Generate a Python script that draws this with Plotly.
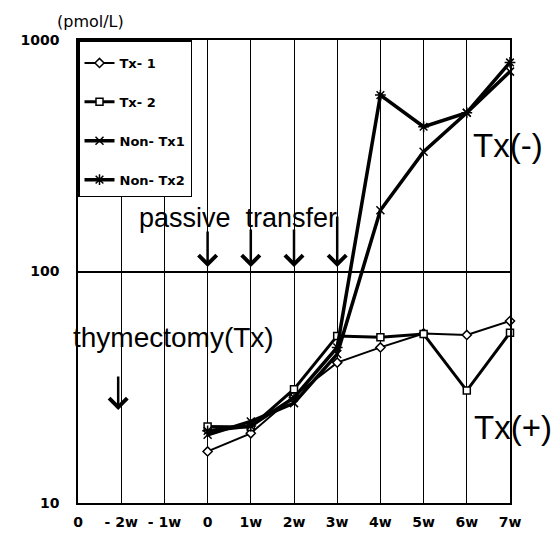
import math
import plotly.graph_objects as go

# ---- data ----
x_tick_labels = ["0", "- 2w", "- 1w", "0", "1w", "2w", "3w", "4w", "5w", "6w", "7w"]
week_pos = [3, 4, 5, 6, 7, 8, 9, 10]          # positions of 0,1w..7w on the axis
tx1 = [16.7, 20.0, 29.0, 40.4, 47.0, 54.0, 53.2, 61.1]
tx2 = [21.4, 21.3, 31.0, 52.7, 52.0, 53.7, 30.6, 54.4]
nontx1 = [19.7, 22.5, 27.0, 44.0, 184, 329, 485, 730]
nontx2 = [20.5, 21.5, 28.5, 47.0, 578, 422, 485, 800]
y_tick_vals = [10, 100, 1000]
y_tick_text = ["10", "100", "1000"]
passive_transfer_weeks = [3, 4, 5, 6]

fig = go.Figure()

series = [
    ("Tx- 1", tx1, "diamond", 7, 2, "white"),
    ("Tx- 2", tx2, "square", 7, 3, "white"),
    ("Non- Tx1", nontx1, "x-thin", 8, 3.5, "black"),
    ("Non- Tx2", nontx2, "asterisk", 9, 3.5, "black"),
]
for name, vals, sym, msize, lw, fill in series:
    fig.add_trace(go.Scatter(
        x=week_pos, y=vals, name=name, legendgroup=name,
        mode="lines+markers",
        line=dict(color="black", width=lw),
        marker=dict(symbol=sym, size=msize, color=fill,
                    line=dict(color="black", width=1.5)),
        cliponaxis=False,
    ))

ann = []
txt_font = dict(family="Liberation Sans, Arial", size=27, color="black")
ann.append(dict(x=3.70, y=2.231, xref="x", yref="y", text="passive&nbsp;&nbsp;transfer",
                showarrow=False, font=txt_font, xanchor="center", yanchor="middle"))
ann.append(dict(x=2.2, y=1.717, xref="x", yref="y", text="thymectomy(Tx)",
                showarrow=False, font=dict(family="Liberation Sans, Arial", size=28, color="black"),
                xanchor="center", yanchor="middle"))
big_font = dict(family="Liberation Sans, Arial", size=33, color="black")
ann.append(dict(x=9.95, y=2.546, xref="x", yref="y", text="Tx(-)",
                showarrow=False, font=big_font, xanchor="center", yanchor="middle"))
ann.append(dict(x=10, y=1.328, xref="x", yref="y", xshift=3, text="Tx(+)",
                showarrow=False, font=big_font, xanchor="center", yanchor="middle"))

tails = [-37, -39, -39, -52]
for xw, ay in zip(passive_transfer_weeks, tails):
    ann.append(dict(x=xw, y=2.019, xref="x", yref="y", text="", showarrow=True,
                    ax=0, ay=ay, arrowhead=4, arrowwidth=2.5, arrowsize=1.4,
                    arrowcolor="black"))
ann.append(dict(x=0.93, y=1.4017, xref="x", yref="y", text="", showarrow=True,
                ax=0, ay=-35, arrowhead=4, arrowwidth=2.5, arrowsize=1.4,
                arrowcolor="black"))
ann.append(dict(x=0.03, y=1.0, xref="paper", yref="paper", yshift=19,
                text="(pmol/L)", showarrow=False, xanchor="center", yanchor="middle",
                font=dict(family="DejaVu Sans", size=16, color="black")))

fig.update_layout(
    width=560, height=534,
    margin=dict(l=78, r=50, t=40, b=31),
    paper_bgcolor="white", plot_bgcolor="white",
    annotations=ann,
    showlegend=True,
    legend=dict(x=0, y=1, xanchor="left", yanchor="top",
                bgcolor="white", bordercolor="black", borderwidth=1.5,
                tracegroupgap=19, traceorder="grouped",
                title=dict(text=" ", font=dict(size=5)),
                font=dict(family="DejaVu Sans", size=13, color="black", weight="bold")),
    xaxis=dict(range=[0, 10], tickmode="array", tickvals=list(range(len(x_tick_labels))),
               ticktext=x_tick_labels, showgrid=True, gridcolor="black", gridwidth=1.2,
               showline=True, linecolor="black", linewidth=1.5, mirror=True,
               zeroline=False, ticks="", ticklabelstandoff=5, automargin=False,
               tickfont=dict(family="DejaVu Sans", size=14, color="black", weight="bold")),
    yaxis=dict(type="log", range=[1, 3], tickmode="array", tickvals=y_tick_vals,
               ticktext=y_tick_text, showgrid=True, gridcolor="black", gridwidth=1.5,
               showline=True, linecolor="black", linewidth=1.5, mirror=True,
               zeroline=False, ticks="", ticklabelstandoff=14, automargin=False,
               tickfont=dict(family="DejaVu Sans", size=14, color="black", weight="bold")),
)

fig.write_html("out.html")
